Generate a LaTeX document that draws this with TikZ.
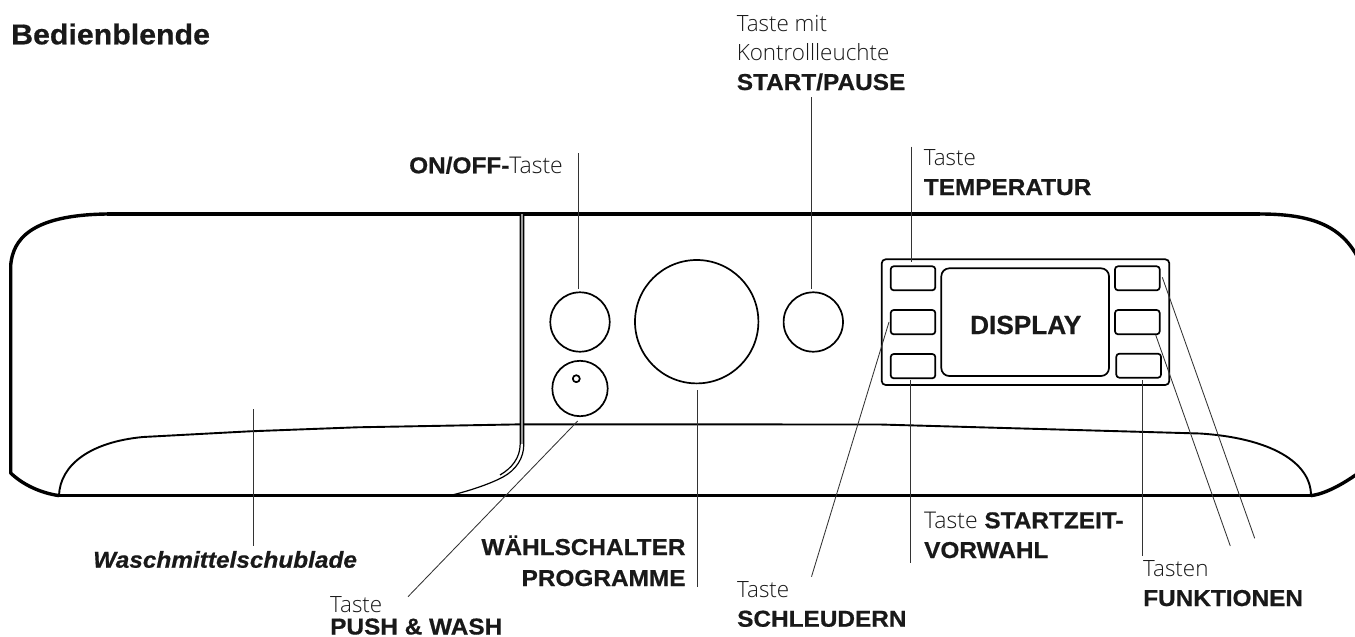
\documentclass[tikz,border=0pt]{standalone}
\usepackage{fontspec}
\setmainfont{Liberation Sans}[BoldFeatures={FakeBold=0.6,FakeStretch=1.06},BoldItalicFeatures={FakeBold=0.6,FakeStretch=1.06}]
\newfontfamily\plainb{Liberation Sans}[BoldFeatures={FakeBold=0.6}]
\newfontfamily\lightfont{Open Sans Light}
\tikzset{
  outline/.style={line width=3.4pt,black},
  shelf/.style={line width=1.9pt,black},
  thinline/.style={line width=1.7pt,black},
  btn/.style={line width=1.7pt,black,rounded corners=3pt},
  doubl/.style={line width=1.2pt,black},
  leader/.style={line width=0.85pt,black!80},
  labl/.style={inner sep=0pt,anchor=base west,font=\fontsize{22.4}{26}\selectfont\lightfont,text=black!90},
  labb/.style={inner sep=0pt,anchor=base west,font=\fontsize{23}{27}\selectfont\bfseries,text=black!90},
  knob/.style={draw,thinline,circle,inner sep=0pt},
}
\begin{document}
\begin{tikzpicture}[x=1pt,y=-1pt,line join=round]
\useasboundingbox (0,0) rectangle (1355,637);
% housing
\draw[outline] (59,495.6) -- (1311,495.6);
\draw[outline] (107,214) -- (1260,214);
\draw[outline] (107,214) .. controls (30,215) and (13,240) .. (10.7,265) -- (10.7,473) .. controls (22,484) and (40,493) .. (59,495.6);
\draw[outline] (1260,214) .. controls (1310,214) and (1340,225) .. (1357,256);
\draw[outline] (1311,495.6) .. controls (1325,494) and (1343,484) .. (1357,474);
% shelf curve
\draw[shelf] (59,495.6) .. controls (60,465) and (90,442) .. (143,437) -- (250,431.3) -- (357,427.3) -- (523,424.3) -- (880,424.5) -- (1200,433.5) .. controls (1270,438) and (1311,462) .. (1311,495.6);
% drawer
\fill[black!40] (520.2,214) rectangle (523.8,444);
\draw[doubl] (520.2,214) -- (520.2,444) .. controls (520,458) and (512,468) .. (500,475);
\draw[doubl] (523.8,214) -- (523.8,444) .. controls (524,458) and (516,470) .. (503,477) .. controls (488,485) and (465,492) .. (450,495.5);
% knobs
\node[knob,minimum size=59.4pt] (onoff) at (580,322) {};
\node[knob,minimum size=123.4pt] (dial) at (696.7,321.7) {};
\node[knob,minimum size=59.4pt] (start) at (813.3,322) {};
\node[knob,minimum size=55.4pt] (push) at (580,388.5) {};
\node[knob,minimum size=7pt] (led) at (576.3,378.7) {};
% panel
\draw[btn,rounded corners=4pt] (881.7,259.3) rectangle (1169.3,385);
\draw[btn] (890.7,266.3) rectangle (935.3,290.3);
\draw[btn] (890.7,310) rectangle (935.3,334.3);
\draw[btn] (890.7,354) rectangle (935.3,378.3);
\draw[btn] (1115,266.3) rectangle (1159.7,290.3);
\draw[btn] (1115,310) rectangle (1159.7,334.3);
\draw[btn] (1116.3,353.7) rectangle (1161,377.7);
\draw[btn,rounded corners=8pt] (941.3,268.3) rectangle (1109,376);
\node[font=\fontsize{26.2}{30}\selectfont\plainb\bfseries,text=black!90,inner sep=0pt] (disp) at (1025.7,325) {DISPLAY};
% free ends
\coordinate (a1) at (578.5,153); \coordinate (a2) at (578.5,289);
\coordinate (b1) at (811.7,97); \coordinate (b2) at (811.7,289);
\coordinate (c1) at (911.5,146.5); \coordinate (c2) at (911.5,262);
\coordinate (d1) at (697.7,390); \coordinate (d2) at (697.7,586.7);
\coordinate (e1) at (253.4,409); \coordinate (e2) at (253.4,546);
\coordinate (f1) at (577.7,421); \coordinate (f2) at (408,596.7);
\coordinate (g1) at (889,322); \coordinate (g2) at (811.5,576.7);
\coordinate (h1) at (910.4,380); \coordinate (h2) at (910.4,562.7);
\coordinate (i1) at (1142.3,380); \coordinate (i2) at (1142.3,556);
\coordinate (j1) at (1155.7,335); \coordinate (j2) at (1230.3,546);
\coordinate (k1) at (1162.3,277.3); \coordinate (k2) at (1254.7,538.3);
\foreach \p/\q in {a1/a2,b1/b2,c1/c2,d1/d2,e1/e2,f1/f2,g1/g2,h1/h2,i1/i2,j1/j2,k1/k2} \draw[leader] (\p) -- (\q);
% labels
\node[labb,font=\fontsize{28.6}{32}\selectfont\bfseries] (title) at (11,44.3) {Bedienblende};
\node[labl] (l1) at (736.6,31.7) {Taste mit};
\node[labl] (l2) at (736.6,60.7) {Kontrollleuchte};
\node[labb] (l3) at (736.6,90) {START/PAUSE};
\node[labb] (l4) at (409,173.3) {ON/OFF-{\lightfont\mdseries Taste}};
\node[labl] (l5) at (923.6,165.7) {Taste};
\node[labb] (l6) at (923.6,195) {TEMPERATUR};
\node[labb,font=\fontsize{23}{27}\selectfont\bfseries\itshape] (l7) at (93,567.7) {Waschmittelschublade};
\node[labl] (l8) at (330,612) {Taste};
\node[labb] (l9) at (330,634.5) {PUSH \& WASH};
\node[labb,anchor=base east] (l10) at (685.7,555) {WÄHLSCHALTER};
\node[labb,anchor=base east] (l11) at (685.7,586) {PROGRAMME};
\node[labl] (l12) at (737,597.7) {Taste};
\node[labb] (l13) at (737,626.7) {SCHLEUDERN};
\node[labb] (l14) at (924,528.3) {{\lightfont\mdseries Taste} STARTZEIT-};
\node[labb] (l15) at (924,558) {VORWAHL};
\node[labl] (l16) at (1143,576.7) {Tasten};
\node[labb] (l17) at (1143,606) {FUNKTIONEN};
\end{tikzpicture}
\end{document}
